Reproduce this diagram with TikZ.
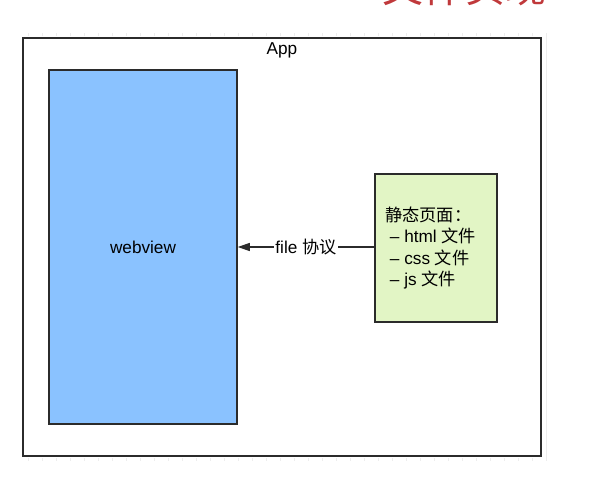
\documentclass[tikz,border=0pt]{standalone}
\usepackage{fontspec}
\setmainfont{Liberation Sans}
\newfontfamily\cjk{Noto Sans CJK SC}
\usetikzlibrary{arrows.meta}
\definecolor{bluefill}{HTML}{8AC2FF}
\definecolor{greenfill}{HTML}{E2F5C5}
\definecolor{edge}{HTML}{2B2B2B}
\definecolor{titlered}{HTML}{C0393B}
\begin{document}
\begin{tikzpicture}[x=1pt,y=-1pt,
  every node/.style={font=\fontsize{17.2}{21.5}\selectfont},
  boxstyle/.style={draw=edge,line width=1.5pt},
  conn/.style={draw=edge,line width=1.2pt}]
\useasboundingbox (0,0) rectangle (604,478);
\begin{scope}
  \clip (0,0) rectangle (604,478);
  \node[anchor=base west,inner sep=0pt,text=titlered,font=\cjk\fontsize{41}{41}\selectfont] (title) at (382,3) {文件实现};
\end{scope}
% faint background grid ticks
\draw[black!7,line width=0.5pt,step=14] (17,33) grid (546,461);
\fill[white] (21,36) rectangle (543,458);
\draw[boxstyle] (23,38) rectangle (541,456);
\node (app) at (282,50) {App};
\node[boxstyle,fill=bluefill,minimum width=188pt,minimum height=354pt,inner sep=0pt] (webview) at (143,247) {webview};
\node[boxstyle,fill=greenfill,minimum width=122pt,minimum height=148pt,inner sep=0pt] (static) at (436,248) {};
\node[anchor=west,align=left,inner sep=0pt] (statictext) at (385,248) {{\cjk 静态页面：}\\\ – html {\cjk 文件}\\\ – css {\cjk 文件}\\\ – js {\cjk 文件}};
\draw[conn,-{Stealth[length=12pt,width=8pt,inset=0pt]}] (static.west |- 0,247) -- node[fill=white,inner sep=1pt] (proto) {file {\cjk 协议}} (webview.east |- 0,247);
\end{tikzpicture}
\end{document}
